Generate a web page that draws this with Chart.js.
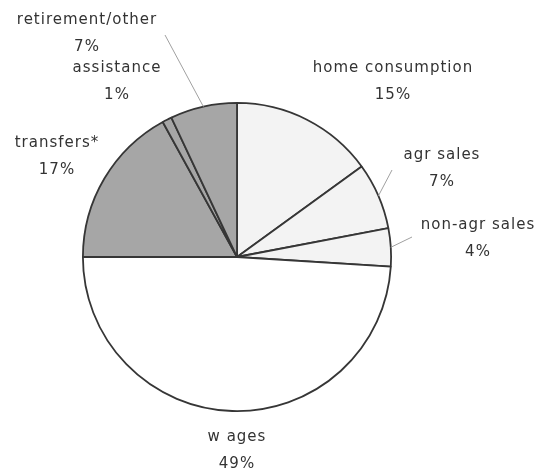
<!DOCTYPE html>
<html>
<head>
<meta charset="utf-8">
<script src="https://cdn.jsdelivr.net/npm/chart.js@4.4.1/dist/chart.umd.min.js"></script>
<style>
  html, body { margin: 0; padding: 0; background: #fff; }
  #wrap { width: 539px; height: 470px; }
</style>
</head>
<body>
<div id="wrap"><canvas id="grafico"></canvas></div>
<script>
// fonti di reddito (quote %)
const categorie = ['home consumption', 'agr sales', 'non-agr sales', 'w ages', 'transfers*', 'assistance', 'retirement/other'];
const valori = [15, 7, 4, 49, 17, 1, 7];
const colori = ['#f3f3f3', '#f3f3f3', '#f3f3f3', '#ffffff', '#a6a6a6', '#a6a6a6', '#a6a6a6'];

// dove mettere le etichette (centro della prima riga)
const posEtichette = [[393, 68], [442, 155], [478, 225], [237, 437], [57, 143], [117, 68], [87, 20]];
// linee guida: indice fetta -> punto finale
const lineeGuida = { 1: [392, 170], 2: [412, 237], 6: [165, 35] };

const pluginEtichette = {
    id: 'etichetteFette',
    afterDraw: (chart) => {
        const ctx = chart.ctx;
        const archi = chart.getDatasetMeta(0).data;
        ctx.save();

        // linee guida dal bordo della fetta
        ctx.strokeStyle = '#a0a0a0';
        ctx.lineWidth = 1;
        Object.keys(lineeGuida).forEach(k => {
            const a = archi[k];
            const medio = (a.startAngle + a.endAngle) / 2;
            const x0 = a.x + Math.cos(medio) * a.outerRadius;
            const y0 = a.y + Math.sin(medio) * a.outerRadius;
            ctx.beginPath();
            ctx.moveTo(x0, y0);
            ctx.lineTo(lineeGuida[k][0], lineeGuida[k][1]);
            ctx.stroke();
        });

        ctx.fillStyle = '#333333';
        ctx.font = '15px "DejaVu Sans"';
        ctx.letterSpacing = '1px';
        ctx.textAlign = 'center';
        ctx.textBaseline = 'middle';
        categorie.forEach((nome, i) => {
            const [x, y] = posEtichette[i];
            ctx.fillText(nome, x, y);
            ctx.fillText(valori[i] + '%', x, y + 27);
        });
        ctx.restore();
    }
};

new Chart(document.getElementById('grafico'), {
    type: 'pie',
    data: {
        labels: categorie,
        datasets: [{
            data: valori,
            backgroundColor: colori,
            borderColor: '#363636',
            borderWidth: 1.8
        }]
    },
    options: {
        responsive: true,
        maintainAspectRatio: false,
        animation: false,
        layout: { padding: { left: 82, right: 147, top: 102, bottom: 58 } },
        plugins: {
            legend: { display: false },
            tooltip: { enabled: false }
        }
    },
    plugins: [pluginEtichette]
});
</script>
</body>
</html>
